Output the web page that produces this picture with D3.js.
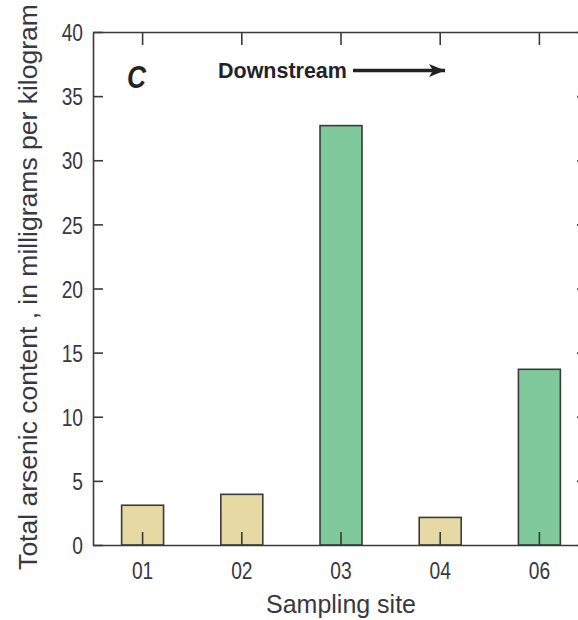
<!DOCTYPE html>
<html>
<head>
<meta charset="utf-8">
<script src="https://cdn.jsdelivr.net/npm/d3@7"></script>
<style>
  html, body { margin: 0; background: #fff; overflow: hidden; }
  svg { display: block; overflow: hidden; }
  svg text { font-family: 'Liberation Sans', Arial, sans-serif; fill: #38383f; }
</style>
</head>
<body>
<div id="chart"></div>
<script>
const sites = ['01', '02', '03', '04', '06']
const arsenic = [3.1, 3.95, 32.7, 2.15, 13.7]
const siteType = ['tan', 'tan', 'green', 'tan', 'green']
const yTicks = [0, 5, 10, 15, 20, 25, 30, 35, 40]

const width = 578, height = 620
const margin = { top: 32, right: -11, bottom: 75, left: 93 }
const innerW = width - margin.left - margin.right
const innerH = height - margin.top - margin.bottom

const colours = { tan: '#e6d9a4', green: '#80c99b' }
const lineCol = '#3a3a3a'

// condensed look: squeeze text horizontally around its own x,y
function squeeze(sel, k) {
    sel.each(function () {
        const t = d3.select(this)
        const tx = +t.attr('x') || 0, ty = +t.attr('y') || 0
        t.attr('x', 0).attr('y', 0)
            .attr('transform', `translate(${tx},${ty}) scale(${k},1)`)
    })
}
function fitWidth(sel, target) {
    const len = sel.node().getComputedTextLength()
    squeeze(sel, target / len)
}

const svg = d3.select('#chart')
    .append('svg')
    .attr('width', width)
    .attr('height', height)

const g = svg.append('g')
    .attr('transform', `translate(${margin.left},${margin.top})`)

const x = d3.scaleBand()
    .domain(sites)
    .range([0, innerW])
    .paddingInner(0.577)
    .paddingOuter(0.2885)

const y = d3.scaleLinear()
    .domain([0, 40])
    .range([innerH, 0])

// bars
g.selectAll('rect.bar')
    .data(sites)
    .enter()
    .append('rect')
    .attr('class', 'bar')
    .attr('x', d => x(d))
    .attr('y', (d, i) => y(arsenic[i]))
    .attr('width', x.bandwidth())
    .attr('height', (d, i) => y(0) - y(arsenic[i]))
    .attr('fill', (d, i) => colours[siteType[i]])
    .attr('stroke', lineCol)
    .attr('stroke-width', 1.6)

// axes, ticks point inward
const leftAxis = g.append('g')
    .call(d3.axisLeft(y).tickValues(yTicks).tickSizeInner(-10).tickSizeOuter(0).tickPadding(10))
const bottomAxis = g.append('g')
    .attr('transform', `translate(0,${innerH})`)
    .call(d3.axisBottom(x).tickSizeInner(-13).tickSizeOuter(0).tickPadding(17))
const topAxis = g.append('g')
    .call(d3.axisTop(x).tickSizeInner(-13).tickSizeOuter(0).tickFormat(''))
// right frame edge falls just outside the picture, only tick stubs show
const rightAxis = g.append('g')
    .attr('transform', `translate(${innerW},0)`)
    .call(d3.axisRight(y).tickValues(yTicks).tickSizeInner(-12).tickSizeOuter(0).tickFormat(''))

g.selectAll('.domain, .tick line')
    .attr('stroke', lineCol)
    .attr('stroke-width', 1.6)

leftAxis.selectAll('text')
    .style('font-size', '24px')
    .attr('dy', '0.36em')
    .call(squeeze, 0.8)
bottomAxis.selectAll('text')
    .style('font-size', '24px')
    .call(squeeze, 0.8)

// axis titles
const yTitle = svg.append('text')
    .attr('text-anchor', 'middle')
    .style('font-size', '26px')
    .text('Total arsenic content , in milligrams per kilogram')
{
    const len = yTitle.node().getComputedTextLength()
    yTitle.attr('transform', `translate(37,287) rotate(-90) scale(${566 / len},1)`)
}

const xTitle = svg.append('text')
    .attr('x', margin.left + x('03') + x.bandwidth() / 2)
    .attr('y', 613)
    .attr('text-anchor', 'middle')
    .style('font-size', '25px')
    .text('Sampling site')
fitWidth(xTitle, 150)

// panel letter and downstream arrow
const letter = svg.append('text')
    .attr('x', 127)
    .attr('y', 88)
    .style('font-size', '31px')
    .style('font-weight', 'bold')
    .style('font-style', 'italic')
    .style('fill', '#222')
    .text('C')
fitWidth(letter, 19)

const down = svg.append('text')
    .attr('x', 218)
    .attr('y', 78)
    .style('font-size', '22px')
    .style('font-weight', 'bold')
    .style('fill', '#22222a')
    .text('Downstream')
fitWidth(down, 129)

svg.append('defs').append('marker')
    .attr('id', 'head')
    .attr('viewBox', '0 0 16 13')
    .attr('refX', 16)
    .attr('refY', 6.5)
    .attr('markerUnits', 'userSpaceOnUse')
    .attr('markerWidth', 16)
    .attr('markerHeight', 13)
    .attr('orient', 'auto')
    .append('path')
    .attr('d', 'M0,0 L16,6.5 L0,13 L4,6.5 Z')
    .attr('fill', '#222')

svg.append('line')
    .attr('x1', 353)
    .attr('x2', 445)
    .attr('y1', 70.5)
    .attr('y2', 70.5)
    .attr('stroke', '#222')
    .attr('stroke-width', 3.5)
    .attr('marker-end', 'url(#head)')
</script>
</body>
</html>
